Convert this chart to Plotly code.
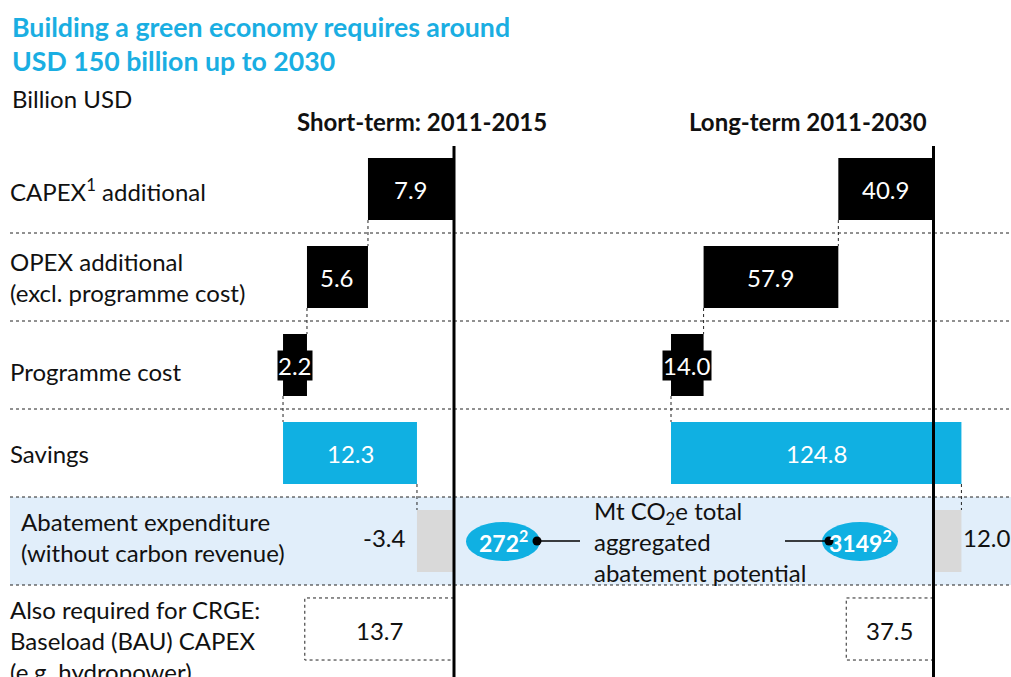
import plotly.graph_objects as go

# ---------------- data ----------------
row_labels = [
    "CAPEX<sup>1</sup> additional",
    "OPEX additional<br>(excl. programme cost)",
    "Programme cost",
    "Savings",
    "Abatement expenditure<br>(without carbon revenue)",
    "Also required for CRGE:<br>Baseload (BAU) CAPEX<br>(e.g. hydropower)",
]
panel_titles = ["Short-term: 2011-2015", "Long-term 2011-2030"]

short_costs = [7.9, 5.6, 2.2]          # CAPEX, OPEX, programme cost
short_savings = 12.3
short_abatement = -3.4
short_crge = 13.7

long_costs = [40.9, 57.9, 14.0]
long_savings = 124.8
long_abatement = 12.0
long_crge = 37.5

abatement_potential = [272, 3149]       # Mt CO2e

# ---------------- layout constants ----------------
W, H = 1011, 677
FONT = "Lato"
BLACK = "#000000"
BLUE = "#10b0e2"
BAND = "#e1eefa"
GREY = "#d9d9d9"
TITLE_BLUE = "#1aaee2"
TXT = "#111111"
LBL = 24

# pixel calibration of the two panels (zero line position, px per unit)
S_ZERO, S_PX = 454.0, 10.89
L_ZERO, L_PX = 933.5, 2.327
# row geometry
ROW0, ROW_STEP = 189.0, 88.0
BAR_W = 0.705


def px(x):
    return x / W


def py(y):
    return 1 - y / H


fig = go.Figure()
shapes = []
annotations = []


def ann(**kw):
    kw.setdefault("showarrow", False)
    kw.setdefault("xanchor", "center")
    kw.setdefault("yanchor", "middle")
    annotations.append(kw)


def panel(xa, costs, savings, crge):
    cum = 0.0
    bases = []
    for v in costs:
        bases.append(cum)
        cum += v
    # cost bars
    for i, (b, v) in enumerate(zip(bases, costs)):
        fig.add_trace(go.Bar(orientation="h", y=[i], x=[v], base=[b], width=BAR_W,
                             marker=dict(color=BLACK, line=dict(width=0)),
                             xaxis=xa, yaxis="y", hoverinfo="skip", showlegend=False))
    total = cum
    # savings bar
    fig.add_trace(go.Bar(orientation="h", y=[3], x=[-savings], base=[total], width=BAR_W,
                         marker=dict(color=BLUE, line=dict(width=0)),
                         xaxis=xa, yaxis="y", hoverinfo="skip", showlegend=False))
    net = total - savings
    # abatement bar (grey)
    fig.add_trace(go.Bar(orientation="h", y=[4], x=[-net], base=[net], width=BAR_W,
                         marker=dict(color=GREY, line=dict(width=0)),
                         xaxis=xa, yaxis="y", hoverinfo="skip", showlegend=False))
    # CRGE dotted box (white fill bar + dotted outline)
    fig.add_trace(go.Bar(orientation="h", y=[5], x=[crge], base=[0], width=BAR_W,
                         marker=dict(color="white", line=dict(width=0)),
                         xaxis=xa, yaxis="y", hoverinfo="skip", showlegend=False))
    shapes.append(dict(type="rect", xref=xa, yref="y", x0=0, x1=crge,
                       y0=5 - BAR_W / 2, y1=5 + BAR_W / 2,
                       line=dict(color="#222", width=1, dash="dot"), layer="above"))
    # connectors
    conn_x = [bases[1], bases[2], total, net]
    for i, cx in enumerate(conn_x):
        shapes.append(dict(type="line", xref=xa, yref="y", x0=cx, x1=cx,
                           y0=i + BAR_W / 2, y1=i + 1 - BAR_W / 2,
                           line=dict(color="#222", width=1, dash="dot"), layer="above"))
    # labels on cost bars
    for i, (b, v) in enumerate(zip(bases, costs)):
        small = i == 2
        ann(xref=xa, yref="y", x=b + v / 2, y=i, text=f"{v:.1f}",
            font=dict(family=FONT, size=LBL, color="white"),
            bgcolor=BLACK if small else None, borderpad=0)
    ann(xref=xa, yref="y", x=total - savings / 2, y=3, text=f"{savings:.1f}",
        font=dict(family=FONT, size=LBL, color="white"))
    ann(xref=xa, yref="y", x=crge / 2, y=5.02, text=f"{crge:.1f}",
        font=dict(family=FONT, size=LBL, color=TXT))
    return net


s_net = panel("x", short_costs, short_savings, short_crge)
l_net = panel("x2", long_costs, long_savings, long_crge)

# abatement value labels
ann(xref="x", yref="y", x=s_net, y=3.96, text=f"{short_abatement:.1f}", xanchor="right",
    xshift=-9, font=dict(family=FONT, size=LBL, color=TXT))
ann(xref="x2", yref="y", x=l_net, y=3.96, text=f"{long_abatement:.1f}", xanchor="left",
    xshift=0, font=dict(family=FONT, size=LBL, color=TXT))

# ---------------- background band, separators, zero lines ----------------
shapes.insert(0, dict(type="rect", xref="paper", yref="y", x0=px(10), x1=1,
                      y0=3.5, y1=4.5, fillcolor=BAND, line=dict(width=0), layer="below"))
for i in range(5):
    shapes.append(dict(type="line", xref="paper", yref="y", x0=px(10), x1=1,
                       y0=i + 0.5, y1=i + 0.5,
                       line=dict(color="#222", width=1, dash="dot"), layer="below"))
y_top = (146 - ROW0) / ROW_STEP
y_bot = (H + 5 - ROW0) / ROW_STEP
for xa in ["x", "x2"]:
    shapes.append(dict(type="line", xref=xa, yref="y", x0=0, x1=0, y0=y_top, y1=y_bot,
                       line=dict(color=BLACK, width=3), layer="above"))

# ---------------- abatement potential ellipses ----------------
ell = [(466, 540), (822, 898)]
ey0, ey1, ecy = 522, 561, 541
for (x0, x1), val in zip(ell, abatement_potential):
    shapes.append(dict(type="circle", xref="paper", yref="paper", x0=px(x0), x1=px(x1),
                       y0=py(ey1), y1=py(ey0), fillcolor=BLUE, line=dict(width=0), layer="above"))
    ann(xref="paper", yref="paper", x=px((x0 + x1) / 2), y=py(ecy),
        text=f"<b>{val}<sup>2</sup></b>", font=dict(family=FONT, size=23, color="white"))
for lx0, lx1, dx in [(537, 580, 537), (785, 829, 829)]:
    shapes.append(dict(type="line", xref="paper", yref="paper", x0=px(lx0), x1=px(lx1),
                       y0=py(ecy), y1=py(ecy), line=dict(color=BLACK, width=1.5), layer="above"))
    shapes.append(dict(type="circle", xref="paper", yref="paper", x0=px(dx - 4.5), x1=px(dx + 4.5),
                       y0=py(ecy + 4.5), y1=py(ecy - 4.5), fillcolor=BLACK,
                       line=dict(width=0), layer="above"))
ann(xref="paper", yref="paper", x=px(592), y=py(541), xanchor="left", align="left",
    text="Mt CO<sub>2</sub>e total<br>aggregated<br>abatement potential",
    font=dict(family=FONT, size=LBL, color=TXT))

# ---------------- row labels ----------------
label_y = [0.01, 1.0, 2.07, 3.0, 3.96]
for i, (lab, ly) in enumerate(zip(row_labels[:5], label_y)):
    ann(xref="paper", yref="y", x=px(19 if i == 4 else 8), y=ly, xanchor="left",
        align="left", text=lab, font=dict(family=FONT, size=LBL, color=TXT))
ann(xref="paper", yref="paper", x=px(8), y=py(593), xanchor="left", yanchor="top",
    align="left", text=row_labels[5], font=dict(family=FONT, size=LBL, color=TXT))

# ---------------- titles ----------------
ann(xref="paper", yref="paper", x=px(10), y=py(27), xanchor="left",
    text="<b>Building a green economy requires around</b>",
    font=dict(family=FONT, size=26.7, color=TITLE_BLUE))
ann(xref="paper", yref="paper", x=px(10), y=py(61), xanchor="left",
    text="<b>USD 150 billion up to 2030</b>",
    font=dict(family=FONT, size=26.7, color=TITLE_BLUE))
ann(xref="paper", yref="paper", x=px(10), y=py(98), xanchor="left",
    text="Billion USD", font=dict(family=FONT, size=LBL, color=TXT))
ann(xref="paper", yref="paper", x=px(422), y=py(121),
    text=f"<b>{panel_titles[0]}</b>", font=dict(family=FONT, size=LBL, color=TXT))
ann(xref="paper", yref="paper", x=px(808), y=py(121),
    text=f"<b>{panel_titles[1]}</b>", font=dict(family=FONT, size=LBL, color=TXT))

fig.update_layout(
    width=W, height=H,
    margin=dict(l=0, r=0, t=0, b=0),
    paper_bgcolor="white", plot_bgcolor="rgba(0,0,0,0)",
    barmode="overlay",
    showlegend=False,
    xaxis=dict(range=[S_ZERO / S_PX, (S_ZERO - W) / S_PX], visible=False, domain=[0, 1],
               fixedrange=True),
    xaxis2=dict(range=[L_ZERO / L_PX, (L_ZERO - W) / L_PX], visible=False, overlaying="x",
                anchor="y", fixedrange=True),
    yaxis=dict(range=[(H - ROW0) / ROW_STEP, -ROW0 / ROW_STEP], visible=False, domain=[0, 1],
               fixedrange=True),
    shapes=shapes,
    annotations=annotations,
    font=dict(family=FONT),
)

fig.write_html("out.html", config={"displayModeBar": False})
